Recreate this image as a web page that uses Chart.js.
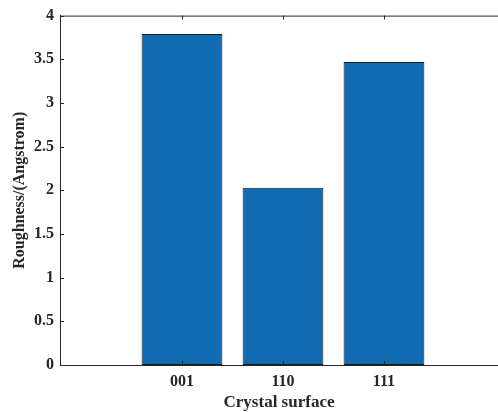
<!DOCTYPE html>
<html>
<head>
<meta charset="utf-8">
<script src="https://cdn.jsdelivr.net/npm/chart.js@4"></script>
<style>
  html, body { margin: 0; padding: 0; background: #fff; }
  #wrap { width: 498px; height: 412px; }
</style>
</head>
<body>
<div id="wrap"><canvas id="bar-chart"></canvas></div>
<script>
// data
const surfaces = ['001', '110', '111'];
const positions = [1, 2, 3];
const roughness = [3.79, 2.03, 3.47];
const yTicks = [0, 0.5, 1, 1.5, 2, 2.5, 3, 3.5, 4];

const serif = '"Liberation Serif", "Times New Roman", serif';
const tickFont = { family: serif, size: 16, weight: 'bold' };
const axisColor = '#262626';

// MATLAB style box: top line plus inward ticks
const matlabBox = {
  id: 'matlabBox',
  afterDraw(chart) {
    const ctx = chart.ctx;
    const a = chart.chartArea;
    const x = chart.scales.x, y = chart.scales.y;
    ctx.save();
    ctx.strokeStyle = axisColor;
    ctx.lineWidth = 1;
    ctx.beginPath();
    ctx.moveTo(a.left, a.top + 0.5);
    ctx.lineTo(a.right, a.top + 0.5);
    positions.forEach(p => {
      const px = Math.round(x.getPixelForValue(p)) + 0.5;
      ctx.moveTo(px, a.bottom);
      ctx.lineTo(px, a.bottom - 4);
      ctx.moveTo(px, a.top);
      ctx.lineTo(px, a.top + 4);
    });
    yTicks.forEach(t => {
      const py = Math.round(y.getPixelForValue(t)) + 0.5;
      ctx.moveTo(a.left, py);
      ctx.lineTo(a.left + 4, py);
    });
    ctx.stroke();
    ctx.restore();
  }
};

new Chart(document.getElementById('bar-chart'), {
  type: 'bar',
  data: {
    datasets: [{
      data: positions.map((p, i) => ({ x: p, y: roughness[i] })),
      backgroundColor: 'rgb(17,107,178)',
      borderColor: '#1a1a1a',
      borderWidth: 1,
      borderSkipped: false,
      barPercentage: 0.8,
      categoryPercentage: 1
    }]
  },
  options: {
    responsive: true,
    maintainAspectRatio: false,
    animation: false,
    layout: { padding: { top: 14, right: 0, left: 0, bottom: 0 } },
    plugins: { legend: { display: false }, tooltip: { enabled: false } },
    scales: {
      x: {
        type: 'linear',
        offset: false,
        min: -0.208,
        max: 4.129,
        afterBuildTicks: (s) => { s.ticks = positions.map(v => ({ value: v })); },
        afterFit: (s) => { s.height = 47; },
        grid: { display: false, drawTicks: false },
        border: { display: true, color: axisColor, width: 1 },
        ticks: {
          color: axisColor,
          font: tickFont,
          padding: 7,
          maxRotation: 0,
          callback: (v) => surfaces[positions.indexOf(v)]
        },
        title: {
          display: true,
          text: 'Crystal surface',
          color: axisColor,
          font: { family: serif, size: 17, weight: 'bold', lineHeight: 1.1 },
          padding: { top: 0, bottom: 0 }
        }
      },
      y: {
        min: 0,
        max: 4,
        afterBuildTicks: (s) => { s.ticks = yTicks.map(v => ({ value: v })); },
        afterFit: (s) => { s.width = 60; },
        grid: { display: false, drawTicks: false },
        border: { display: true, color: axisColor, width: 1 },
        ticks: { color: axisColor, font: tickFont, padding: 6, callback: (v) => String(v) },
        title: {
          display: true,
          text: 'Roughness/(Angstrom)',
          color: axisColor,
          font: { family: serif, size: 16, weight: 'bold' },
          padding: { top: 10, bottom: 0 }
        }
      }
    }
  },
  plugins: [matlabBox]
});
</script>
</body>
</html>
